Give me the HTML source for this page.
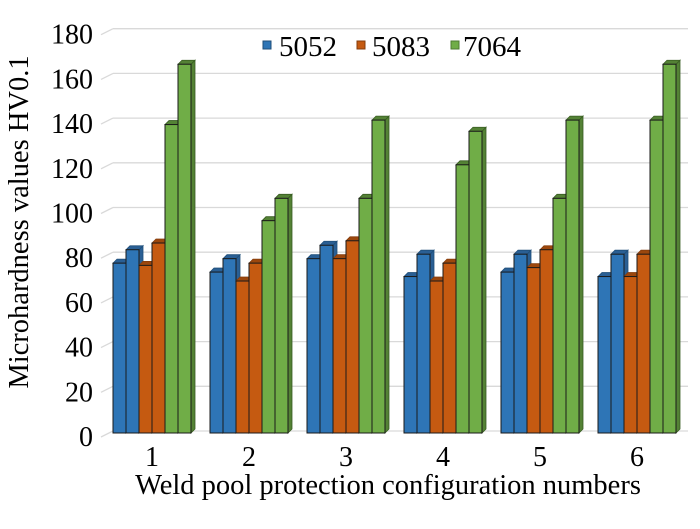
<!DOCTYPE html>
<html><head><meta charset="utf-8"><style>
body{margin:0;background:#fff}
svg{display:block}
text{font-family:"Liberation Serif","Times New Roman",serif}
</style></head><body>
<svg id="c" width="700" height="529" font-family="Liberation Serif, serif">
<g id="grid"></g>
<g id="yt"></g>
<g id="bars"></g>
<g id="xt"></g>
<text x="28" y="222" font-size="28.5" text-anchor="middle" transform="rotate(-90 28 222)">Microhardness values HV0.1</text>
<text x="388" y="494" font-size="28.5" text-anchor="middle">Weld pool protection configuration numbers</text>
<g>
<g><rect x="263" y="41" width="8" height="8" fill="#2e75b6" stroke="#1f4e79"/><text x="279" y="56" font-size="29">5052</text></g>
<g><rect x="357" y="41" width="8" height="8" fill="#c55a11" stroke="#843c0c"/><text x="372" y="56" font-size="29">5083</text></g>
<g><rect x="451" y="41" width="8" height="8" fill="#70ad47" stroke="#4e7a31"/><text x="463" y="56" font-size="29">7064</text></g>
</g>
</svg>
<script>
const categories=["1","2","3","4","5","6"];
const s5052a=[76,72,78,70,72,70];
const s5052b=[82,78,84,80,80,80];
const s5083a=[75,68,78,68,74,70];
const s5083b=[85,76,86,76,82,80];
const s7064a=[138,95,105,120,105,140];
const s7064b=[165,105,140,135,140,165];
const yTicks=[0,20,40,60,80,100,120,140,160,180];
const NS="http://www.w3.org/2000/svg";
const base=433,k=2.235;
const y=v=>base-v*k;
const x0=113,pitch=97,bw=13,d=4;
function el(t,a,p){const e=document.createElementNS(NS,t);for(const n in a)e.setAttribute(n,a[n]);p.appendChild(e);return e;}
const grid=document.getElementById('grid'),yt=document.getElementById('yt'),bars=document.getElementById('bars'),xt=document.getElementById('xt');
yTicks.forEach(v=>{
  const yy=y(v)+4;
  const g=el('g',{},grid);
  
  
  el('line',{x1:101,y1:yy,x2:113,y2:yy-6,stroke:'#d9d9d9','stroke-width':1.3},g);
  el('line',{x1:113,y1:yy-6,x2:688,y2:yy-6,stroke:'#d9d9d9','stroke-width':1.3},g);
  const t=el('text',{x:93,y:yy+9,'font-size':28,'text-anchor':'end'},yt);
  t.textContent=v;
  
  
});
const series=[[s5052a,'#2e75b6','#1f4e79','#2a5f94'],[s5052b,'#2e75b6','#1f4e79','#2a5f94'],[s5083a,'#c55a11','#843c0c','#9c470d'],[s5083b,'#c55a11','#843c0c','#9c470d'],[s7064a,'#70ad47','#385d22','#548235'],[s7064b,'#70ad47','#385d22','#548235']];
const names=['5052-a','5052-b','5083-a','5083-b','7064-a','7064-b'];
categories.forEach((c,i)=>{
  const gx=x0+i*pitch;
  series.forEach((s,j)=>{
    const v=s[0][i],bx=gx+j*bw,ty=y(v);
    const g=el('g',{},bars);
    
    
    el('polygon',{points:`${bx+bw},${ty} ${bx+bw+d},${ty-d} ${bx+bw+d},${base-d} ${bx+bw},${base}`,fill:s[3],stroke:s[2],'stroke-width':0.8},g);
    el('polygon',{points:`${bx},${ty} ${bx+d},${ty-d} ${bx+bw+d},${ty-d} ${bx+bw},${ty}`,fill:s[3],stroke:s[2],'stroke-width':0.8},g);
    el('rect',{x:bx,y:ty,width:bw,height:base-ty,fill:s[1],stroke:'#1a1a1a','stroke-width':1},g);
  });
  const t=el('text',{x:gx+bw*3,y:466,'font-size':28,'text-anchor':'middle'},xt);
  t.textContent=c;
  
  
});
</script>
</body></html>
